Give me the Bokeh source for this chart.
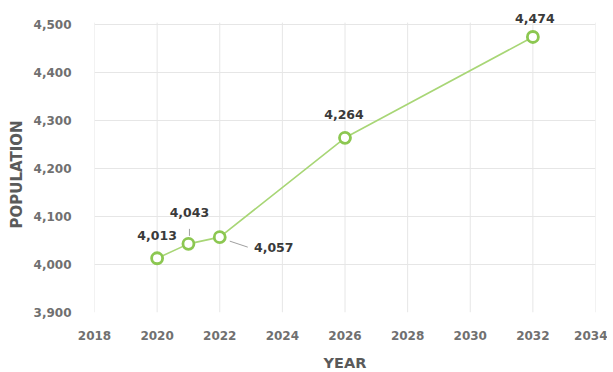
from bokeh.plotting import figure
from bokeh.models import ColumnDataSource, Range1d, FixedTicker, NumeralTickFormatter, LabelSet, Title
from bokeh.core.properties import value
from bokeh.embed import file_html
from bokeh.resources import INLINE

# Data
years = [2020, 2021, 2022, 2026, 2032]
population = [4013, 4043, 4057, 4264, 4474]
x_ticks = [2018, 2020, 2022, 2024, 2026, 2028, 2030, 2032, 2034]
y_ticks = [3900, 4000, 4100, 4200, 4300, 4400, 4500]

# Label placement (pixel offsets relative to each point; y up)
label_dx = [0, 1, 54, -1, 2]
label_dy = [23, 31, -10, 23, 18]

FONT = "DejaVu Sans"
GREEN = "#8cc751"
LINE_GREEN = "#a8d676"
GRID = "#e6e6e6"

FRAME_W, FRAME_H = 501, 308
X0, X1 = 2018, 2034
Y0 = 3900
Y1 = Y0 + FRAME_H / 0.48      # 0.48 px per person
GRID_TOP = 4504               # vertical grid lines stop just above the top tick

p = figure(frame_width=FRAME_W, frame_height=FRAME_H,
           min_border_left=92, min_border_right=12,
           min_border_top=4, min_border_bottom=58,
           x_range=Range1d(X0, X1), y_range=Range1d(Y0, Y1),
           output_backend="svg", toolbar_location=None, tools="")

p.outline_line_color = None
p.background_fill_color = "white"
p.border_fill_color = "white"

for ax in (p.xaxis[0], p.yaxis[0]):
    ax.axis_line_color = None
    ax.major_tick_line_color = None
    ax.minor_tick_line_color = None
    ax.major_label_text_font = FONT
    ax.major_label_text_font_size = "12px"
    ax.major_label_text_font_style = "bold"
    ax.major_label_text_color = "#707070"
    ax.axis_label_text_font = FONT
    ax.axis_label_text_font_size = "14.5px"
    ax.axis_label_text_font_style = "bold"
    ax.axis_label_text_color = "#5a5a5a"

p.xaxis.ticker = FixedTicker(ticks=x_ticks)
p.yaxis.ticker = FixedTicker(ticks=y_ticks)
p.yaxis.formatter = NumeralTickFormatter(format="0,0")
p.xaxis.axis_label = "YEAR"
p.xaxis.major_label_standoff = 12
p.xaxis.axis_label_standoff = 12
p.yaxis.major_label_standoff = 17

# y-axis title centred on the tick span (not on the taller frame)
p.add_layout(Title(text="POPULATION", align="left", offset=84, standoff=10,
                   text_font=FONT, text_font_size="15px", text_font_style="bold",
                   text_color="#5a5a5a"), "left")

p.xgrid.grid_line_color = None
p.ygrid.grid_line_color = GRID
p.ygrid.ticker = FixedTicker(ticks=y_ticks)

# vertical grid lines drawn from the x ticks, limited to the tick range
p.segment(x0=x_ticks, y0=[Y0] * len(x_ticks), x1=x_ticks, y1=[GRID_TOP] * len(x_ticks),
          line_color=GRID, line_width=1, level="underlay")

src = ColumnDataSource(dict(
    x=years, y=population,
    label=[f"{v:,}" for v in population],
    dx=label_dx, dy=label_dy,
))

# Leader lines for the two labels that need them (pixel offsets converted to data units)
px_per_year = FRAME_W / (X1 - X0)
px_per_unit = FRAME_H / (Y1 - Y0)
lead_x0 = [years[1] + 1 / px_per_year, years[2] + 10 / px_per_year]
lead_y0 = [population[1] + 8 / px_per_unit, population[2] - 4 / px_per_unit]
lead_x1 = [years[1] + 1 / px_per_year, years[2] + 28 / px_per_year]
lead_y1 = [population[1] + 15 / px_per_unit, population[2] - 10 / px_per_unit]
p.segment(x0=lead_x0, y0=lead_y0, x1=lead_x1, y1=lead_y1,
          line_color="#a0a0a0", line_width=1)

p.line("x", "y", source=src, line_color=LINE_GREEN, line_width=1.6)
p.scatter("x", "y", source=src, size=11, marker="circle",
          line_color=GREEN, line_width=2.8, fill_color="white")

labels = LabelSet(x="x", y="y", text="label", source=src,
                  x_offset="dx", y_offset="dy",
                  text_font=value(FONT), text_font_size="12.5px", text_font_style="bold",
                  text_color="#3a3a3a", text_align="center", text_baseline="middle")
p.add_layout(labels)

open("out.html", "w").write(file_html(p, INLINE))
